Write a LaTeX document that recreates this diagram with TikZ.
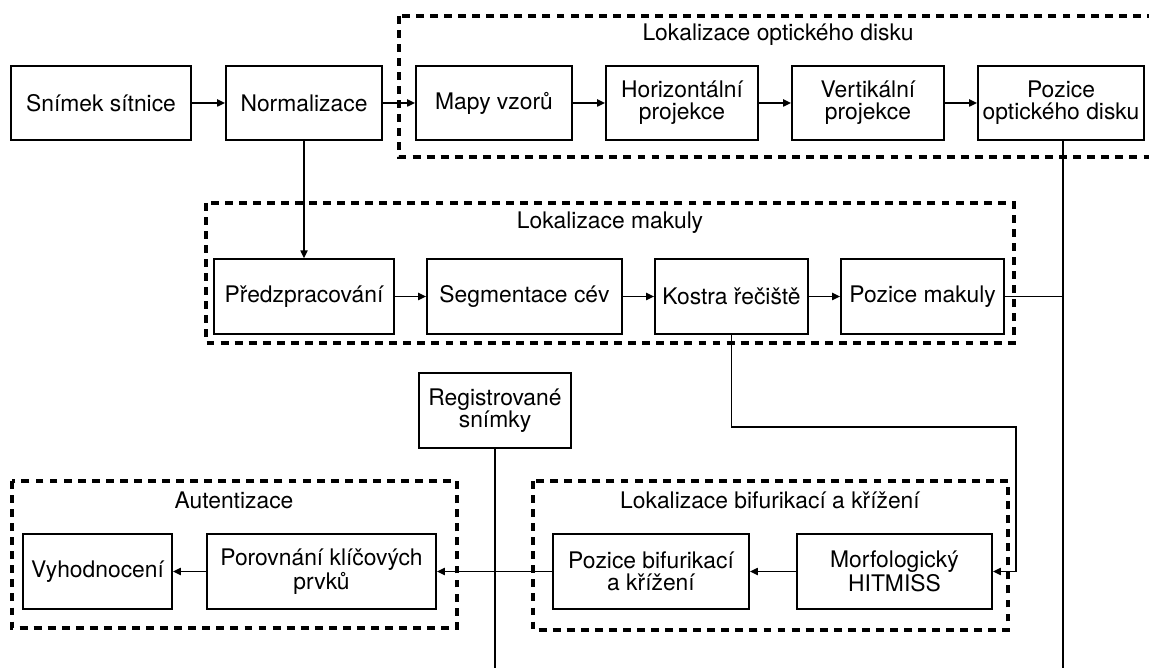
\documentclass[tikz,border=0pt]{standalone}
\usepackage{fontspec}
\setmainfont{TeX Gyre Heros}
\usetikzlibrary{arrows.meta}

\tikzset{
  stepbox/.style={draw, line width=1pt, minimum height=1.49cm, align=center, inner sep=1pt},
  groupbox/.style={line width=1.75pt, dash pattern=on 4.5pt off 3.5pt},
  conn/.style={line width=0.9pt},
}

\begin{document}
\begin{tikzpicture}[x=0.02cm, y=-0.02cm, >={Triangle[length=4.5pt, width=4pt]},
    font=\fontsize{13}{12.4}\selectfont]
    \useasboundingbox (0,0) rectangle (1149,668);

    % skupiny
    \draw[groupbox] (399,16) rectangle (1170,157);
    \draw[groupbox] (206,203) rectangle (1014,343);
    \draw[groupbox] (533,481) rectangle (1008,630);
    \draw[groupbox] (12,481) rectangle (457,628);
    \node (tdisk) at (778,35) {Lokalizace optického disku};
    \node (tmak) at (610,223) {Lokalizace makuly};
    \node (tbif) at (770,500) {Lokalizace bifurikací a křížení};
    \node (taut) at (234,500) {Autentizace};

    % horni rada
    \node[stepbox, minimum width=3.6cm] (snimek) at (101,103) {Snímek sítnice};
    \node[stepbox, minimum width=3.12cm] (norm) at (304,103) {Normalizace};
    \node[stepbox, minimum width=3.12cm] (mapy) at (494,103) {Mapy vzorů};
    \node[stepbox, minimum width=3.04cm] (hproj) at (682,103) {Horizontální\\projekce};
    \node[stepbox, minimum width=3.04cm] (vproj) at (868,103) {Vertikální\\projekce};
    \node[stepbox, minimum width=3.32cm] (pdisk) at (1061,103) {Pozice\\optického disku};

    % makula
    \node[stepbox, minimum width=3.6cm] (predz) at (304,296.5) {Předzpracování};
    \node[stepbox, minimum width=3.9cm] (segm) at (524.5,296.5) {Segmentace cév};
    \node[stepbox, minimum width=3.06cm] (kostra) at (731.5,296.5) {Kostra řečiště};
    \node[stepbox, minimum width=3.26cm] (pmak) at (922.5,296.5) {Pozice makuly};

    \node[stepbox, minimum width=3.04cm] (reg) at (495,410.5) {Registrované\\snímky};

    % dolni rada
    \node[stepbox, minimum width=2.98cm] (vyhod) at (97.5,571.5) {Vyhodnocení};
    \node[stepbox, minimum width=4.58cm] (porov) at (321.5,571.5) {Porovnání klíčových\\prvků};
    \node[stepbox, minimum width=3.92cm] (pbif) at (651,571.5) {Pozice bifurikací\\a křížení};
    \node[stepbox, minimum width=3.9cm] (morf) at (894.5,571.5) {Morfologický\\HITMISS};

    \coordinate (kbend) at (1016,427);
    \coordinate (dolni) at (0,672);

    % spoje
    \draw[conn, ->] (snimek) -- (norm);
    \draw[conn, ->] (norm) -- (mapy);
    \draw[conn, ->] (mapy) -- (hproj);
    \draw[conn, ->] (hproj) -- (vproj);
    \draw[conn, ->] (vproj) -- (pdisk);
    \draw[conn, ->] (norm) -- (predz);
    \draw[conn, ->] (predz) -- (segm);
    \draw[conn, ->] (segm) -- (kostra);
    \draw[conn, ->] (kostra) -- (pmak);
    \draw[conn] ([xshift=0.04cm]pdisk.south) -- ([xshift=0.04cm]pdisk.south |- dolni);
    \draw[conn] (pmak) -- ([xshift=0.04cm]pdisk.south |- pmak.east);
    \draw[conn, ->] (kostra.south) |- (kbend) |- (morf.east);
    \draw[conn, ->] (morf) -- (pbif);
    \draw[conn, ->] (pbif) -- (porov);
    \draw[conn, ->] (porov) -- (vyhod);
    \draw[conn] (reg.south) -- (reg.south |- dolni);
\end{tikzpicture}
\end{document}
